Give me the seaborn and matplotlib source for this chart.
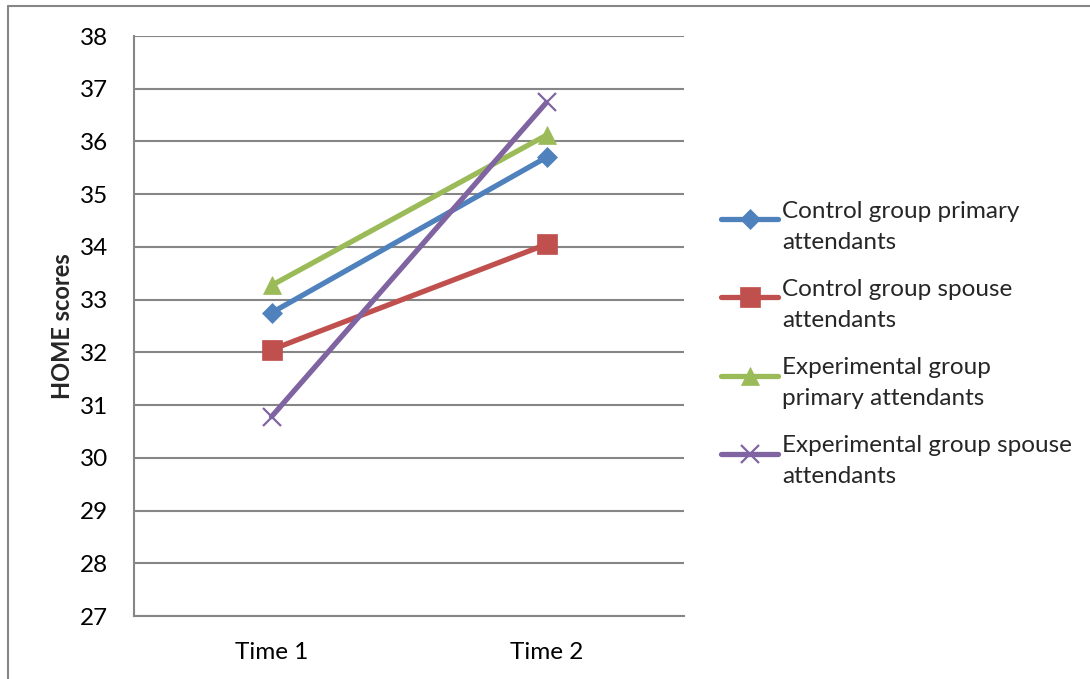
import matplotlib
matplotlib.use("Agg")
import matplotlib.pyplot as plt
from matplotlib.lines import Line2D
from matplotlib.legend_handler import HandlerLine2D
import seaborn as sns
import pandas as pd

# Data
times = ["Time 1", "Time 2"]
groups = [
    "Control group primary\nattendants",
    "Control group spouse\nattendants",
    "Experimental group\nprimary attendants",
    "Experimental group spouse\nattendants",
]
control_primary = [32.75, 35.70]
control_spouse = [32.05, 34.05]
experimental_primary = [33.27, 36.12]
experimental_spouse = [30.78, 36.74]
y_ticks = list(range(27, 39))

colors = ["#4F81BD", "#C0504D", "#9BBB59", "#8064A2"]
markers = ["D", "s", "^", "x"]
marker_sizes = [10.5, 14.5, 13.5, 12.5]

series = [control_primary, control_spouse, experimental_primary, experimental_spouse]
df = pd.DataFrame(
    [(g, t, v) for g, vals in zip(groups, series) for t, v in zip(times, vals)],
    columns=["group", "time", "score"],
)
df["pos"] = df["time"].map({t: i for i, t in enumerate(times)})

sns.set_theme(style="white")
plt.rcParams["font.family"] = ["Lato", "DejaVu Sans"]

fig = plt.figure(figsize=(10.9, 6.79), dpi=100)
ax = fig.add_axes([134 / 1090, 1 - 616 / 679, 550 / 1090, 580 / 679])

grid_color = "#868686"
for i, g in enumerate(groups):
    sub = df[df["group"] == g]
    sns.lineplot(
        data=sub, x="pos", y="score", ax=ax, color=colors[i],
        linewidth=3.8, marker=markers[i], markersize=marker_sizes[i],
        markeredgecolor=colors[i], markeredgewidth=1.6 if markers[i] == "x" else 0.5,
        legend=False, zorder=3 + i,
    )

ax.set_xlim(-0.5, 1.5)
ax.set_ylim(27, 38)
ax.set_yticks(y_ticks)
ax.set_yticklabels([str(v) for v in y_ticks], fontsize=17.5, color="black")
ax.set_xticks([0, 1])
ax.set_xticklabels(times, fontsize=17.5, color="black")
ax.tick_params(axis="both", length=0)
ax.tick_params(axis="y", pad=18.5)
ax.tick_params(axis="x", pad=19)
ax.set_xlabel("")
ax.set_ylabel("HOME scores", fontsize=17, fontweight="bold", labelpad=4)
ax.yaxis.grid(True, color=grid_color, linewidth=1.5)
ax.set_axisbelow(True)
for side in ["top", "right"]:
    ax.spines[side].set_visible(False)
ax.spines["left"].set_color(grid_color)
ax.spines["left"].set_linewidth(1.5)
ax.spines["bottom"].set_color(grid_color)
ax.spines["bottom"].set_linewidth(1.5)


class FirstLineHandler(HandlerLine2D):
    """Legend key placed level with the first line of a two-line label."""

    def create_artists(self, legend, orig_handle, xdescent, ydescent,
                       width, height, fontsize, trans):
        return super().create_artists(legend, orig_handle, xdescent,
                                      ydescent - 0.62 * fontsize, width, height,
                                      fontsize, trans)


handles = [
    Line2D([0], [0], color=colors[i], linewidth=3.8, marker=markers[i],
           markersize=marker_sizes[i], markeredgecolor=colors[i],
           markeredgewidth=1.6 if markers[i] == "x" else 0.5)
    for i in range(len(groups))
]
leg = fig.legend(
    handles, groups, loc="center left", bbox_to_anchor=(714 / 1090, 1 - 344 / 679),
    frameon=False, fontsize=17.5, handlelength=2.35, handletextpad=0.15,
    labelspacing=1.1, borderaxespad=0, borderpad=0.3,
    handler_map={Line2D: FirstLineHandler()},
)
for t in leg.get_texts():
    t.set_linespacing(1.55)

# chart frame
fig.add_artist(Line2D([8 / 1090, 8 / 1090], [0, 1 - 6 / 679], transform=fig.transFigure,
                      color=grid_color, linewidth=1.5))
fig.add_artist(Line2D([8 / 1090, 1], [1 - 6 / 679, 1 - 6 / 679], transform=fig.transFigure,
                      color=grid_color, linewidth=1.5))

fig.savefig("out.png", dpi=100, facecolor="white")
